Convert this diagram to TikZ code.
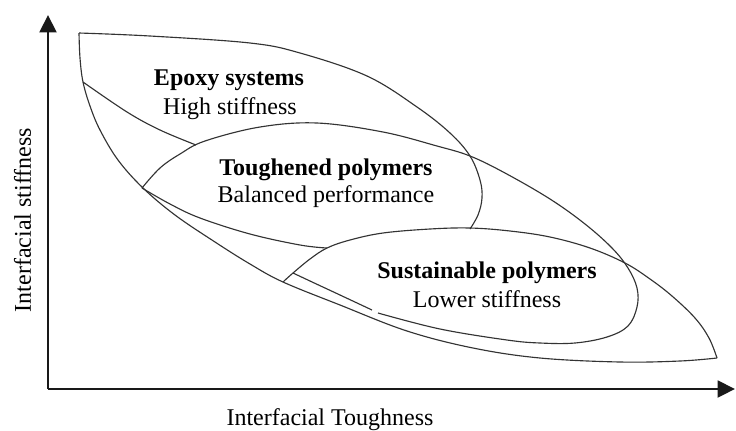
\documentclass[tikz,border=0pt]{standalone}
\usepackage{fontspec}
\setmainfont{Liberation Serif}
\usetikzlibrary{arrows.meta}
\begin{document}
\begin{tikzpicture}[x=0.75pt,y=-0.75pt,
  curve/.style={line width=0.85pt, draw=black!80},
  axis/.style={line width=2.2pt, draw=black!90, -{Triangle[length=13pt,width=12.5pt]}},
  lbl/.style={font=\fontsize{18}{20}\selectfont, anchor=base, inner sep=0pt},
  ttl/.style={font=\fontsize{18}{20}\selectfont\bfseries, anchor=base, inner sep=0pt}]
\useasboundingbox (0,0) rectangle (736,430);

% axes
\coordinate (O) at (48,389);
\coordinate (Ytip) at (48,15);
\coordinate (Xtip) at (735,389);
\draw[axis] (O) -- (Ytip);
\draw[axis] (O) -- (Xtip);

% outer left / bottom edge
\draw[curve] plot[smooth, tension=0.6] coordinates {(79,33) (80,58) (83,82) (90,106) (100,130) (118,160) (143,188) (175,215) (215,242) (250,264) (283,282) (340,305) (407,331) (473,348) (540,358) (620,362) (680,361) (717,358)};

% top edge of epoxy region with its rounded end
\draw[curve] plot[smooth, tension=0.6] coordinates {(79,33) (150,36) (250,43) (300,53) (367,76) (417,107) (450,133) (470,156) (480,180) (482,198) (478,215) (470,229)};

% lower boundary of epoxy region
\draw[curve] plot[smooth, tension=0.6] coordinates {(83,82) (127,112) (160,130) (196,145)};

% toughened top, outer right edge, sustainable end and bottom (part 1)
\draw[curve] plot[smooth, tension=0.6] coordinates {(142,188) (160,168) (180,154) (205,141) (260,127) (317,123) (383,132) (437,146) (470,156) (505,173) (550,199) (585,224) (612,248) (628,268) (637,288) (637,307) (628,326) (607,337) (575,343) (540,343) (507,340) (440,329) (378,313)};
% sustainable bottom (part 2, left of the gap)
\draw[curve] plot[smooth, tension=0.6] coordinates {(372,310) (340,295) (310,281) (293,273)};

% toughened bottom
\draw[curve] plot[smooth, tension=0.6] coordinates {(142,188) (170,204) (200,218) (250,234) (300,245) (327,248)};

% sustainable top to the outer tip
\draw[curve] plot[smooth, tension=0.6] coordinates {(283,282) (293,273) (310,259) (327,248) (350,240) (383,233) (430,229) (470,228) (510,231) (550,237) (590,248) (625,263) (650,279) (672,296) (695,318) (709,338) (717,358)};

% labels
\node[ttl] (epoxyT) at (229,85) {Epoxy systems};
\node[lbl] (epoxyS) at (230,114) {High stiffness};
\node[ttl] (toughT) at (326,175) {Toughened polymers};
\node[lbl] (toughS) at (326,202) {Balanced performance};
\node[ttl] (sustT) at (487,278) {Sustainable polymers};
\node[lbl] (sustS) at (487,307) {Lower stiffness};
\node[lbl] (xlab) at (330,425) {Interfacial Toughness};
\node[lbl, rotate=90] (ylab) at (31,220) {Interfacial stiffness};
\end{tikzpicture}
\end{document}
